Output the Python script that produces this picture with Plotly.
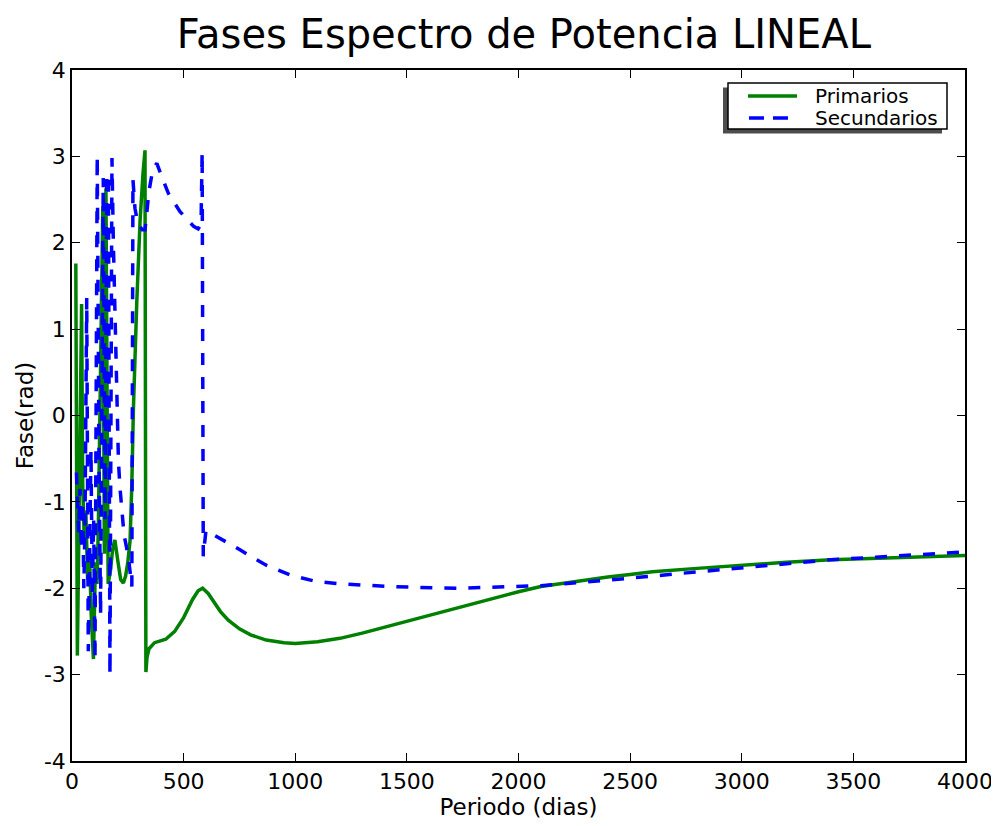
import plotly.graph_objects as go

# ---- data ----
prim_x = [17, 24, 43, 48, 55, 62, 70, 78, 86, 96, 105, 112, 118, 138, 145, 152, 162, 172, 182, 192,
          205, 218, 230, 240, 250, 260, 268, 275, 290, 305, 318, 327, 331, 336, 345, 370, 420, 460,
          500, 540, 565, 585, 610, 640, 665, 700, 750, 800, 870, 950, 1000, 1100, 1200, 1300, 1400,
          1500, 1600, 1700, 1800, 1900, 2000, 2100, 2200, 2300, 2400, 2500, 2600, 2800, 3000, 3200,
          3400, 3600, 3800, 4000]
prim_y = [1.76, -2.78, 1.29, -0.8, -1.45, -1.1, -1.9, -1.55, -2.3, -2.82, -1.7, -1.95, -1.3, 2.43,
          -1.6, 2.63, -1.95, -1.8, -1.55, -1.44, -1.68, -1.9, -1.94, -1.86, -1.7, -1.45, -0.8, 0.07,
          1.3, 2.26, 2.8, 3.07, -2.97, -2.8, -2.7, -2.63, -2.59, -2.5, -2.34, -2.13, -2.03, -2.0,
          -2.06, -2.18, -2.27, -2.37, -2.47, -2.54, -2.6, -2.63, -2.64, -2.62, -2.58, -2.52, -2.45,
          -2.38, -2.31, -2.24, -2.17, -2.1, -2.04, -1.98, -1.94, -1.9, -1.87, -1.84, -1.81, -1.77,
          -1.73, -1.70, -1.67, -1.65, -1.63, -1.62]

sec_x = [20, 24, 30, 36, 42, 48, 53, 58, 66, 73, 79, 85, 91, 97, 103, 113, 121, 128, 140, 148, 156,
         163, 170, 179, 185, 193, 200, 208, 215, 222, 233, 252, 264, 268, 273, 282, 295, 315, 327,
         345, 362, 380, 400, 432, 484, 520, 545, 565, 578, 583, 588, 600, 650, 700, 756, 800, 868,
         980, 1092, 1204, 1316, 1428, 1550, 1650, 1750, 1850, 2000, 2100, 2200, 2400, 2600, 2800,
         3000, 3200, 3400, 3600, 3800, 4000]
sec_y = [-0.66, -1.05, -1.35, -0.85, -1.55, -1.0, -2.0, -1.3, 1.36, -2.73, -1.5, -0.4, -2.1, -1.2,
         -2.83, 3.01, -0.5, -2.3, 2.75, -1.2, 2.8, 2.77, -3.0, 2.98, 2.03, 1.03, 0.1, -0.53, -0.84,
         -1.09, -1.38, -1.63, -1.9, -1.98, 2.73, 2.4, 2.22, 2.15, 2.15, 2.6, 2.85, 2.92, 2.78, 2.57,
         2.36, 2.26, 2.19, 2.16, 2.22, 3.05, -1.63, -1.33, -1.40, -1.48, -1.56, -1.63, -1.73, -1.85,
         -1.92, -1.95, -1.97, -1.98, -1.99, -2.0, -2.0, -1.99, -1.98, -1.97, -1.95, -1.91, -1.86,
         -1.81, -1.76, -1.71, -1.67, -1.64, -1.61, -1.58]

series_names = ["Primarios", "Secundarios"]
series_colors = ["#008000", "#0000ff"]

x_ticks = [0, 500, 1000, 1500, 2000, 2500, 3000, 3500, 4000]
x_labels = ["0", "500", "1000", "1500", "2000", "2500", "3000", "3500", "4000"]
y_ticks = [-4, -3, -2, -1, 0, 1, 2, 3, 4]
y_labels = ["-4", "-3", "-2", "-1", "0", "1", "2", "3", "4"]

FONT = "DejaVu Sans"
# the page body adds an 8px offset; the figure is sized so the plot lands where the reference has it
OFF = 8
W, H = 999 - OFF, 826 - OFF
L, R, T, B = 72 - OFF, 34, 70 - OFF, 65
PW, PH = W - L - R, H - T - B


def px(xp):  # screen pixel -> paper x
    return (xp - OFF - L) / PW


def py(yp):  # screen pixel -> paper y
    return (H - B - (yp - OFF)) / PH


fig = go.Figure()
fig.add_trace(go.Scatter(x=prim_x, y=prim_y, mode="lines", name=series_names[0], showlegend=False,
                         line=dict(color=series_colors[0], width=3.5)))
fig.add_trace(go.Scatter(x=sec_x, y=sec_y, mode="lines", name=series_names[1], showlegend=False,
                         line=dict(color=series_colors[1], width=3.5, dash="12px,12px")))

axis_common = dict(showgrid=False, zeroline=False, showline=True, linecolor="black",
                   linewidth=1.5, mirror="ticks", ticks="inside", ticklen=8, tickwidth=1.2,
                   tickcolor="black", automargin=False,
                   tickfont=dict(family=FONT, size=22, color="black"))

# legend drawn by hand (matplotlib style box with shadow)
shapes = [
    dict(type="rect", xref="paper", yref="paper", x0=px(723), x1=px(942), y0=py(133.5), y1=py(87.5),
         fillcolor="#4d4d4d", line=dict(width=0), layer="above"),
    dict(type="rect", xref="paper", yref="paper", x0=px(728), x1=px(947), y0=py(129), y1=py(83),
         fillcolor="white", line=dict(color="black", width=1.5), layer="above"),
    dict(type="line", xref="paper", yref="paper", x0=px(748), x1=px(797), y0=py(96), y1=py(96),
         line=dict(color=series_colors[0], width=3.5), layer="above"),
    dict(type="line", xref="paper", yref="paper", x0=px(749), x1=px(797), y0=py(118), y1=py(118),
         line=dict(color=series_colors[1], width=3.5, dash="15px,9px"), layer="above"),
]
annotations = [
    dict(text=series_names[0], xref="paper", yref="paper", x=px(813), y=py(96), xanchor="left",
         yanchor="middle", showarrow=False, font=dict(family=FONT, size=20, color="black")),
    dict(text=series_names[1], xref="paper", yref="paper", x=px(813), y=py(118), xanchor="left",
         yanchor="middle", showarrow=False, font=dict(family=FONT, size=20, color="black")),
]

fig.update_layout(
    width=W, height=H,
    paper_bgcolor="white", plot_bgcolor="white",
    margin=dict(l=L, r=R, t=T, b=B),
    font=dict(family=FONT, color="black"),
    showlegend=False,
    title=dict(text="Fases Espectro de Potencia LINEAL", x=0.506, xref="paper", xanchor="center",
               y=1 - 26 / H, yref="container", yanchor="middle",
               font=dict(family=FONT, size=40, color="black")),
    xaxis=dict(range=[0, 4000], tickvals=x_ticks, ticktext=x_labels,
               title=dict(text="Periodo (dias)", font=dict(family=FONT, size=23), standoff=2),
               **axis_common),
    yaxis=dict(range=[-4, 4], tickvals=y_ticks, ticktext=y_labels,
               title=dict(text="Fase(rad)", font=dict(family=FONT, size=23), standoff=4),
               **axis_common),
    shapes=shapes,
    annotations=annotations,
)

fig.write_html("out.html")
